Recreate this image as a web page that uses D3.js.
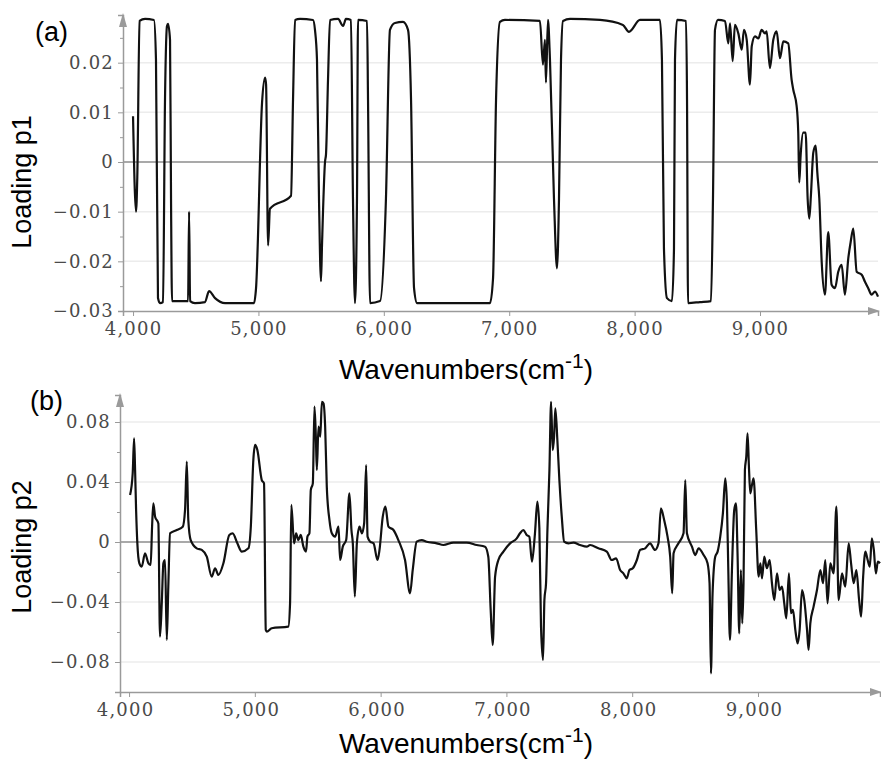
<!DOCTYPE html>
<html>
<head>
<meta charset="utf-8">
<script src="https://cdn.jsdelivr.net/npm/d3@7"></script>
<style>
    body { margin: 0; background: #fff; }
    svg { display: block; }
</style>
</head>
<body>
<div id="display"></div>
<script>
// Loading p1 (panel a)
const p1Wavenumbers = [
    4000, 4024, 4034, 4052, 4096, 4167, 4183, 4199, 4215, 4239, 4255, 4271, 4279, 4295, 4303, 4311,
    4439, 4447, 4455, 4494, 4574, 4606, 4654, 4734, 4853, 4965, 4981, 5029, 5053, 5061, 5077, 5092,
    5260, 5276, 5292, 5332, 5435, 5451, 5467, 5483, 5499, 5507, 5531, 5539, 5555, 5571, 5635, 5675,
    5698, 5738, 5754, 5770, 5786, 5794, 5866, 5874, 5890, 5970, 6017, 6049, 6089, 6153, 6193, 6217,
    6241, 6265, 6528, 6847, 6871, 6895, 6926, 6966, 7245, 7269, 7285, 7293, 7309, 7325, 7357, 7381,
    7397, 7413, 7429, 7485, 7724, 7907, 7955, 8043, 8202, 8218, 8234, 8258, 8298, 8314, 8322, 8338,
    8410, 8418, 8426, 8521, 8609, 8625, 8641, 8665, 8721, 8747, 8761, 8782, 8800, 8827, 8854, 8872,
    8894, 8920, 8934, 8960, 8987, 9013, 9040, 9053, 9079, 9106, 9133, 9159, 9186, 9225, 9252, 9265,
    9292, 9305, 9313, 9324, 9345, 9364, 9380, 9393, 9406, 9425, 9444, 9457, 9473, 9492, 9518, 9544,
    9571, 9598, 9624, 9651, 9677, 9704, 9723, 9744, 9771, 9811, 9837, 9863, 9890, 9917, 9941
];
const p1Loadings = [
    0.0092, -0.0100, -0.0030, 0.0284, 0.0288, 0.0286, 0.0206, -0.0274, -0.0284, -0.0282, 0.0126, 0.0274, 0.0278, 0.0246, -0.0074, -0.0280,
    -0.0280, -0.0100, -0.0280, -0.0284, -0.0282, -0.0260, -0.0274, -0.0284, -0.0284, -0.0284, -0.0254, 0.0120, 0.0170, 0.0156, -0.0168, -0.0094,
    -0.0068, 0.0126, 0.0286, 0.0288, 0.0286, 0.0266, 0.0206, -0.0074, -0.0240, -0.0168, 0.0000, 0.0016, 0.0166, 0.0286, 0.0288, 0.0274,
    0.0288, 0.0286, -0.0074, -0.0284, -0.0074, 0.0286, 0.0284, 0.0126, -0.0284, -0.0280, -0.0074, 0.0266, 0.0280, 0.0282, 0.0266, 0.0126,
    -0.0254, -0.0284, -0.0284, -0.0284, -0.0234, 0.0126, 0.0282, 0.0286, 0.0284, 0.0196, 0.0246, 0.0160, 0.0286, 0.0206, -0.0074, -0.0214,
    -0.0074, 0.0206, 0.0284, 0.0288, 0.0286, 0.0276, 0.0262, 0.0286, 0.0286, 0.0206, -0.0174, -0.0274, -0.0280, -0.0174, 0.0206, 0.0286,
    0.0284, 0.0126, -0.0284, -0.0282, -0.0280, -0.0074, 0.0266, 0.0286, 0.0284, 0.0239, 0.0279, 0.0203, 0.0276, 0.0259, 0.0226, 0.0266,
    0.0246, 0.0156, 0.0233, 0.0253, 0.0249, 0.0266, 0.0259, 0.0263, 0.0189, 0.0246, 0.0263, 0.0209, 0.0243, 0.0239, 0.0166, 0.0146,
    0.0113, 0.0059, -0.0041, 0.0013, 0.0059, 0.0059, -0.0074, -0.0114, -0.0067, 0.0019, 0.0033, -0.0021, -0.0074, -0.0201, -0.0267, -0.0141,
    -0.0247, -0.0254, -0.0221, -0.0207, -0.0267, -0.0194, -0.0161, -0.0134, -0.0221, -0.0227, -0.0241, -0.0254, -0.0267, -0.0261, -0.0271
];

// Loading p2 (panel b)
const p2Wavenumbers = [
    4008, 4029, 4040, 4048, 4056, 4066, 4082, 4101, 4127, 4154, 4172, 4183, 4193, 4207, 4233, 4246,
    4260, 4273, 4286, 4300, 4312, 4326, 4379, 4427, 4445, 4459, 4471, 4490, 4538, 4578, 4618, 4657,
    4684, 4710, 4750, 4797, 4824, 4861, 4896, 4949, 4968, 4988, 5002, 5020, 5055, 5073, 5087, 5095,
    5134, 5266, 5280, 5290, 5312, 5328, 5346, 5365, 5386, 5407, 5418, 5434, 5445, 5461, 5474, 5485,
    5493, 5506, 5520, 5533, 5546, 5559, 5572, 5593, 5612, 5638, 5665, 5678, 5699, 5726, 5752, 5768,
    5779, 5795, 5811, 5832, 5851, 5869, 5885, 5896, 5917, 5944, 5975, 5991, 6017, 6038, 6062, 6102,
    6141, 6194, 6234, 6255, 6287, 6327, 6366, 6446, 6499, 6578, 6684, 6764, 6830, 6856, 6875, 6891,
    6910, 6936, 6976, 7029, 7082, 7108, 7135, 7161, 7182, 7203, 7227, 7246, 7262, 7275, 7291, 7302,
    7315, 7326, 7342, 7355, 7368, 7379, 7389, 7405, 7421, 7440, 7459, 7493, 7533, 7586, 7639, 7665,
    7731, 7798, 7837, 7872, 7904, 7930, 7957, 7978, 8005, 8037, 8063, 8103, 8142, 8182, 8209, 8228,
    8254, 8281, 8302, 8318, 8329, 8368, 8408, 8422, 8435, 8475, 8501, 8528, 8568, 8599, 8615, 8626,
    8639, 8660, 8679, 8700, 8721, 8740, 8753, 8764, 8777, 8793, 8811, 8825, 8838, 8851, 8864, 8875,
    8885, 8896, 8907, 8917, 8928, 8939, 8952, 8965, 8986, 9005, 9019, 9032, 9050, 9071, 9093, 9111,
    9130, 9151, 9172, 9191, 9209, 9225, 9246, 9262, 9278, 9297, 9315, 9331, 9350, 9368, 9390, 9402,
    9416, 9442, 9469, 9496, 9517, 9535, 9553, 9575, 9601, 9623, 9641, 9668, 9694, 9721, 9740, 9761,
    9782, 9804, 9820, 9836, 9854, 9872, 9889, 9905, 9921, 9937, 9953, 9970
];
const p2Loadings = [
    0.0313, 0.0458, 0.0691, 0.0480, 0.0213, -0.0009, -0.0142, -0.0164, -0.0075, -0.0142, -0.0153, 0.0102, 0.0258, 0.0169, 0.0124, -0.0631,
    -0.0409, -0.0142, -0.0120, -0.0653, -0.0298, 0.0058, 0.0080, 0.0102, 0.0213, 0.0536, 0.0147, 0.0013, -0.0042, -0.0053, -0.0098, -0.0231,
    -0.0175, -0.0220, -0.0142, 0.0047, 0.0058, -0.0009, -0.0064, -0.0042, 0.0102, 0.0547, 0.0647, 0.0613, 0.0413, 0.0391, -0.0587, -0.0598,
    -0.0575, -0.0564, -0.0409, 0.0247, -0.0009, 0.0058, 0.0013, 0.0047, -0.0031, -0.0064, 0.0036, 0.0058, 0.0347, 0.0391, 0.0902, 0.0702,
    0.0480, 0.0769, 0.0702, 0.0935, 0.0924, 0.0769, 0.0369, 0.0147, 0.0058, 0.0036, 0.0102, -0.0120, -0.0031, 0.0013, 0.0324, 0.0080,
    -0.0009, -0.0364, -0.0009, 0.0102, 0.0058, 0.0124, 0.0513, 0.0036, 0.0002, -0.0009, -0.0120, -0.0053, 0.0169, 0.0236, 0.0102, 0.0080,
    0.0013, -0.0120, -0.0342, -0.0187, 0.0002, 0.0013, 0.0002, -0.0009, -0.0020, -0.0004, -0.0004, -0.0020, -0.0031, -0.0098, -0.0453, -0.0687,
    -0.0231, -0.0120, -0.0064, -0.0009, 0.0024, 0.0058, 0.0080, 0.0047, 0.0036, -0.0131, 0.0058, 0.0269, 0.0091, -0.0564, -0.0787, -0.0387,
    -0.0275, 0.0080, 0.0480, 0.0935, 0.0613, 0.0702, 0.0891, 0.0680, 0.0413, 0.0169, 0.0002, -0.0009, -0.0004, -0.0020, -0.0031, -0.0020,
    -0.0042, -0.0064, -0.0120, -0.0109, -0.0187, -0.0209, -0.0242, -0.0187, -0.0175, -0.0120, -0.0053, -0.0042, -0.0009, -0.0053, -0.0009, 0.0224,
    0.0147, 0.0036, -0.0098, -0.0342, -0.0075, -0.0009, 0.0058, 0.0413, 0.0058, -0.0031, -0.0087, -0.0042, -0.0087, -0.0142, -0.0275, -0.0876,
    -0.0342, -0.0098, -0.0064, 0.0036, 0.0191, 0.0424, 0.0258, -0.0187, -0.0653, -0.0187, 0.0213, 0.0258, -0.0098, -0.0609, -0.0187, -0.0542,
    -0.0275, 0.0480, 0.0569, 0.0724, 0.0502, 0.0324, 0.0380, 0.0424, 0.0080, -0.0231, -0.0142, -0.0242, -0.0098, -0.0175, -0.0120, -0.0275,
    -0.0387, -0.0209, -0.0320, -0.0298, -0.0409, -0.0509, -0.0209, -0.0475, -0.0453, -0.0587, -0.0676, -0.0587, -0.0320, -0.0387, -0.0587, -0.0720,
    -0.0542, -0.0431, -0.0320, -0.0187, -0.0275, -0.0120, -0.0409, -0.0142, -0.0209, 0.0236, -0.0387, -0.0209, -0.0298, -0.0009, -0.0142, -0.0275,
    -0.0187, -0.0387, -0.0498, -0.0231, -0.0064, -0.0120, -0.0164, 0.0024, -0.0053, -0.0209, -0.0131, -0.0142
];

// Tick values
const xTicks = [4000, 5000, 6000, 7000, 8000, 9000];
const p1TicksMajor = [-0.03, -0.02, -0.01, 0, 0.01, 0.02];
const p1TicksMinor = [-0.025, -0.015, -0.005, 0.005, 0.015, 0.025];
const p2TicksMajor = [-0.08, -0.04, 0, 0.04, 0.08];
const p2TicksMinor = [-0.06, -0.02, 0.02, 0.06];

let style = {
    axis: "#9a9a9a",
    grid: "#ececec",
    zero: "#8c8c8c",
    tickText: "#4a4a4a",
    line: "#111",
    tickFont: "'DejaVu Serif', serif",
    titleFont: "'Liberation Sans', Arial, sans-serif"
}

const svg = d3.select("div#display").append("svg").attr("width", 881).attr("height", 763);

const yFormat = d => d === 0 ? "0" : d3.format(".2f")(d);

/**
 * Draw one loading panel
 */
function drawPanel(p) {
    const x = d3.scaleLinear().domain(p.xDomain).range([p.left, p.right]);
    const y = d3.scaleLinear().domain(p.yDomain).range([p.bottom, p.top]);
    const g = svg.append("g");

    // grid lines at major ticks
    g.append("g").selectAll("line").data(p.major.filter(d => d !== 0 && d !== p.yDomain[0])).enter().append("line")
        .attr("x1", p.left).attr("x2", p.right)
        .attr("y1", d => y(d)).attr("y2", d => y(d))
        .attr("stroke", style.grid).attr("stroke-width", 1.5);

    // zero line
    g.append("line").attr("x1", p.left).attr("x2", p.right)
        .attr("y1", y(0)).attr("y2", y(0))
        .attr("stroke", style.zero).attr("stroke-width", 1.3);

    // y axis, major + minor ticks
    g.append("g").attr("transform", `translate(${p.left},0)`)
        .call(d3.axisLeft(y).tickValues(p.major).tickSize(5).tickPadding(4).tickFormat(yFormat));
    g.append("g").attr("transform", `translate(${p.left},0)`)
        .call(d3.axisLeft(y).tickValues(p.minor).tickSize(3).tickFormat(""))
        .call(a => a.select(".domain").remove());

    // x axis
    const xAxis = g.append("g").attr("transform", `translate(0,${p.bottom})`)
        .call(d3.axisBottom(x).tickValues(xTicks).tickSize(5).tickPadding(6).tickFormat(d3.format(",")));

    g.selectAll(".domain").attr("stroke", style.axis).attr("stroke-width", 1.5);
    g.selectAll(".tick line").attr("stroke", style.axis);
    g.selectAll(".tick text")
        .attr("fill", style.tickText)
        .style("font-family", style.tickFont)
        .style("font-size", "18px")
        .style("letter-spacing", "1.2px");
    xAxis.selectAll(".tick text").attr("dx", p.xLabelShift);

    // arrows on the axes
    g.append("path")
        .attr("d", `M${p.left},${p.top - 2}L${p.left - 4},${p.top + 12}L${p.left + 4},${p.top + 12}Z`)
        .attr("fill", style.axis);
    g.append("path")
        .attr("d", `M${p.right + 2},${p.bottom}L${p.right - 10},${p.bottom - 4}L${p.right - 10},${p.bottom + 4}Z`)
        .attr("fill", style.axis);

    // the loading curve
    const line = d3.line().x(d => x(d[0])).y(d => y(d[1])).curve(d3.curveMonotoneX);
    g.append("path")
        .datum(d3.zip(p.wavenumbers, p.loadings))
        .attr("d", line)
        .attr("fill", "none")
        .attr("stroke", style.line)
        .attr("stroke-width", 2.2)
        .attr("stroke-linejoin", "round");

    // panel letter
    g.append("text").attr("x", p.letterX).attr("y", p.letterY)
        .style("font-family", style.titleFont).style("font-size", "27px")
        .text(p.letter);

    // y title
    g.append("text")
        .attr("transform", `translate(31,${p.yTitleY}) rotate(-90)`)
        .attr("text-anchor", "middle")
        .style("font-family", style.titleFont).style("font-size", "27px")
        .text(p.yTitle);

    // x title with superscript
    const xt = g.append("text")
        .attr("x", 466).attr("y", p.xTitleY)
        .attr("text-anchor", "middle")
        .style("font-family", style.titleFont).style("font-size", "28px");
    xt.append("tspan").text("Wavenumbers(cm");
    xt.append("tspan").attr("dy", -11).style("font-size", "21px").text("-1");
    xt.append("tspan").attr("dy", 11).text(")");
}

drawPanel({
    wavenumbers: p1Wavenumbers, loadings: p1Loadings,
    xDomain: [3920, 9941], yDomain: [-0.03, 0.0296],
    left: 123, right: 878, top: 15, bottom: 311,
    major: p1TicksMajor, minor: p1TicksMinor,
    letter: "(a)", letterX: 35, letterY: 41,
    yTitle: "Loading p1", yTitleY: 182,
    xTitleY: 379, xLabelShift: 0
});

drawPanel({
    wavenumbers: p2Wavenumbers, loadings: p2Loadings,
    xDomain: [3928, 9970], yDomain: [-0.1, 0.098],
    left: 120, right: 880, top: 395, bottom: 692,
    major: p2TicksMajor, minor: p2TicksMinor,
    letter: "(b)", letterX: 30, letterY: 410,
    yTitle: "Loading p2", yTitleY: 547,
    xTitleY: 753, xLabelShift: -4
});
</script>
</body>
</html>
